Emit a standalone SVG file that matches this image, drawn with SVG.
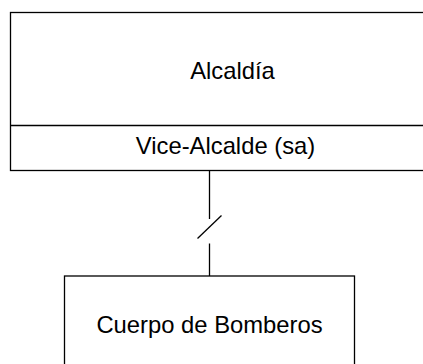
<svg xmlns="http://www.w3.org/2000/svg" width="423" height="364" viewBox="0 0 423 364">
<style>
.box{fill:#fff;stroke:#000;stroke-width:1.3}
.ln{fill:none;stroke:#000;stroke-width:1.3}
.t{font-family:"Liberation Sans",Arial,sans-serif;font-size:23.8px;fill:#000;text-anchor:middle}
</style>
<rect width="423" height="364" fill="#fff"/>
<g id="alcaldia">
<rect class="box" x="10.5" y="12.5" width="440" height="158"/>
<line class="ln" x1="10.5" y1="125.5" x2="450" y2="125.5"/>
<text class="t" x="232.5" y="78.5">Alcaldía</text>
<text class="t" x="225.5" y="154">Vice-Alcalde (sa)</text>
</g>
<g id="connectors">
<line class="ln" x1="209.5" y1="170.5" x2="209.5" y2="219"/>
<line class="ln" x1="197.5" y1="238.5" x2="221.5" y2="215.5"/>
<line class="ln" x1="209.5" y1="243.5" x2="209.5" y2="276"/>
</g>
<g id="bomberos">
<rect class="box" x="64.5" y="276" width="290" height="100"/>
<text class="t" x="209.5" y="333">Cuerpo de Bomberos</text>
</g>
</svg>
